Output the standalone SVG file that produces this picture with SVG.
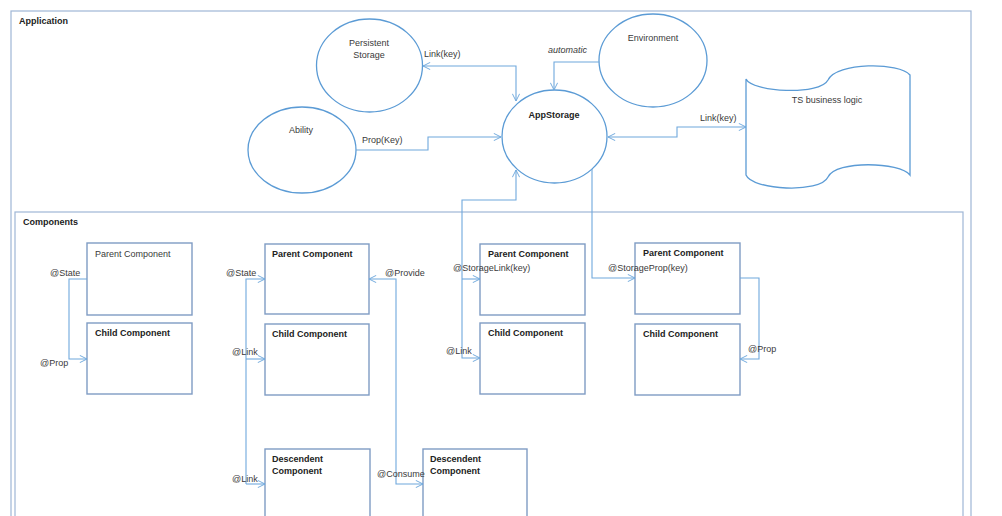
<svg xmlns="http://www.w3.org/2000/svg" width="1002" height="516" viewBox="0 0 1002 516">
<style>
text{font-family:"Liberation Sans",Arial,sans-serif;font-size:9px;fill:#3a3a3a}
.b{font-weight:bold;fill:#222}
.i{font-style:italic}
.m{text-anchor:middle}
.frame{fill:none;stroke:#9fb6d6;stroke-width:1.2}
.ell{fill:#fff;stroke:#5b9bd5;stroke-width:1.3}
.box{fill:#fff;stroke:#7f9cc4;stroke-width:1.4}
.c{fill:none;stroke:#6fa8dc;stroke-width:1.1}
</style>
<defs>
<marker id="a" viewBox="0 0 10 10" refX="10" refY="5" markerWidth="8" markerHeight="8" markerUnits="userSpaceOnUse" orient="auto-start-reverse">
<path d="M1,0.5 L10,5 L1,9.5" fill="none" stroke="#6fa8dc" stroke-width="1.2"/>
</marker>
</defs>
<rect width="1002" height="516" fill="#fff"/>
<g id="application">
<rect class="frame" x="11" y="11" width="960" height="520"/>
<text class="b" x="19" y="24">Application</text>
</g>
<g id="components">
<rect class="frame" x="15" y="212" width="948" height="320"/>
<text class="b" x="23" y="225">Components</text>
</g>
<g id="persistent-storage">
<ellipse class="ell" cx="369.5" cy="65.5" rx="53" ry="46.5"/>
<text class="m" x="369" y="46">Persistent</text>
<text class="m" x="369" y="58">Storage</text>
</g>
<g id="ability">
<ellipse class="ell" cx="302" cy="150" rx="54" ry="43"/>
<text class="m" x="301" y="133">Ability</text>
</g>
<g id="appstorage">
<ellipse class="ell" cx="554.5" cy="136.5" rx="52.5" ry="46.5"/>
<text class="m b" x="554" y="118">AppStorage</text>
</g>
<g id="environment">
<ellipse class="ell" cx="653" cy="60.5" rx="54" ry="46.5"/>
<text class="m" x="653" y="41">Environment</text>
</g>
<g id="ts-business-logic">
<path class="ell" d="M746,79 C752,92 820,96 828,80 C836,62 900,62 910,75 L910,175 C900,162 836,160 828,177 C820,194 752,190 746,175 Z"/>
<text class="m" x="827" y="103">TS business logic</text>
</g>
<g id="g1-parent">
<rect class="box" x="87" y="243" width="105" height="72"/>
<text x="95" y="257">Parent Component</text>
</g>
<g id="g1-child">
<rect class="box" x="87" y="323" width="105" height="71"/>
<text class="b" x="95" y="336">Child Component</text>
</g>
<g id="g2-parent">
<rect class="box" x="265" y="244" width="104" height="70"/>
<text class="b" x="272" y="257">Parent Component</text>
</g>
<g id="g2-child">
<rect class="box" x="265" y="324" width="104" height="71"/>
<text class="b" x="272" y="337">Child Component</text>
</g>
<g id="g2-descendent1">
<rect class="box" x="265" y="449" width="105" height="80"/>
<text class="b" x="272" y="462">Descendent</text>
<text class="b" x="272" y="474">Component</text>
</g>
<g id="g2-descendent2">
<rect class="box" x="423" y="449" width="104" height="80"/>
<text class="b" x="430" y="462">Descendent</text>
<text class="b" x="430" y="474">Component</text>
</g>
<g id="g3-parent">
<rect class="box" x="480" y="244" width="105" height="71"/>
<text class="b" x="488" y="257">Parent Component</text>
</g>
<g id="g3-child">
<rect class="box" x="480" y="323" width="105" height="71"/>
<text class="b" x="488" y="336">Child Component</text>
</g>
<g id="g4-parent">
<rect class="box" x="635" y="243" width="105" height="71"/>
<text class="b" x="643" y="256">Parent Component</text>
</g>
<g id="g4-child">
<rect class="box" x="635" y="324" width="105" height="71"/>
<text class="b" x="643" y="337">Child Component</text>
</g>
<g id="connectors">
<path class="c" d="M516,101 V66 H423" marker-start="url(#a)" marker-end="url(#a)"/>
<text x="424" y="57">Link(key)</text>
<path class="c" d="M356,150 H428 V137 H501" marker-end="url(#a)"/>
<text x="362" y="143">Prop(Key)</text>
<path class="c" d="M599,62 H554 V90" marker-end="url(#a)"/>
<text class="i" x="548" y="53">automatic</text>
<path class="c" d="M608,137 H677 V127 H746" marker-start="url(#a)" marker-end="url(#a)"/>
<text x="700" y="121">Link(key)</text>
<path class="c" d="M516,170 V200 H462 V358 H480" marker-start="url(#a)" marker-end="url(#a)"/>
<path class="c" d="M462,279 H480" marker-end="url(#a)"/>
<text x="453" y="271">@StorageLink(key)</text>
<text x="446" y="354">@Link</text>
<path class="c" d="M592,169 V278 H635" marker-end="url(#a)"/>
<text x="608" y="271">@StorageProp(key)</text>
<path class="c" d="M87,279 H69 V359 H87" marker-end="url(#a)"/>
<text x="50" y="276">@State</text>
<text x="40" y="366">@Prop</text>
<path class="c" d="M246,484 V279 H265" marker-end="url(#a)"/>
<path class="c" d="M246,359 H265" marker-end="url(#a)"/>
<path class="c" d="M246,484 H265" marker-end="url(#a)"/>
<text x="226" y="276">@State</text>
<text x="232" y="355">@Link</text>
<text x="232" y="482">@Link</text>
<path class="c" d="M369,279 H396 V484 H423" marker-start="url(#a)" marker-end="url(#a)"/>
<text x="385" y="276">@Provide</text>
<text x="377" y="477">@Consume</text>
<path class="c" d="M740,278 H759 V359 H740" marker-end="url(#a)"/>
<text x="748" y="352">@Prop</text>
</g>
</svg>
